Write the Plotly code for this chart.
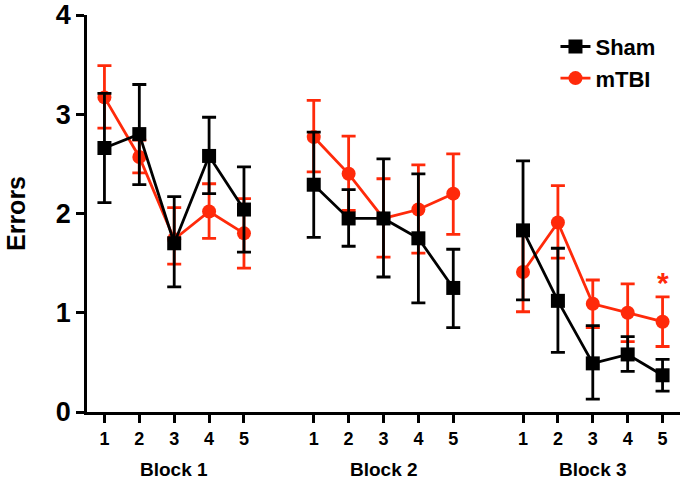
import plotly.graph_objects as go

# Data ------------------------------------------------------------------------
BLOCKS = ['Block 1', 'Block 2', 'Block 3']
TRIALS = ['1', '2', '3', '4', '5']

sham_mean = [
    [2.66, 2.80, 1.70, 2.58, 2.04],
    [2.29, 1.95, 1.95, 1.75, 1.25],
    [1.83, 1.12, 0.49, 0.58, 0.37],
]
sham_hi = [
    [3.21, 3.30, 2.17, 2.97, 2.47],
    [2.82, 2.24, 2.55, 2.40, 1.64],
    [2.53, 1.65, 0.87, 0.76, 0.53],
]
sham_lo = [
    [2.11, 2.29, 1.26, 2.20, 1.61],
    [1.76, 1.67, 1.36, 1.10, 0.85],
    [1.13, 0.60, 0.13, 0.41, 0.21],
]
mtbi_mean = [
    [3.17, 2.57, 1.74, 2.02, 1.80],
    [2.77, 2.40, 1.95, 2.04, 2.20],
    [1.41, 1.91, 1.09, 1.00, 0.91],
]
mtbi_hi = [
    [3.49, 2.74, 2.06, 2.30, 2.15],
    [3.14, 2.78, 2.35, 2.49, 2.60],
    [1.83, 2.28, 1.33, 1.29, 1.16],
]
mtbi_lo = [
    [2.86, 2.41, 1.49, 1.75, 1.45],
    [2.42, 2.03, 1.56, 1.60, 1.79],
    [1.01, 1.55, 0.85, 0.71, 0.66],
]
SIG_BLOCK, SIG_TRIAL, SIG_Y = 2, 4, 1.30

BLACK = '#000000'
RED = '#ff2a0a'
FONT = 'Liberation Sans'
GAP = 6  # trial slots between block starts

fig = go.Figure()


def xpos(b):
    return [b * GAP + i for i in range(len(TRIALS))]


def add_group(name, means, his, los, color, symbol):
    for b in range(len(BLOCKS)):
        m = means[b]
        fig.add_trace(go.Scatter(
            x=xpos(b), y=m, name='<b>%s</b>' % name, legendgroup=name,
            showlegend=(b == 0),
            mode='lines+markers',
            line=dict(color=color, width=2.8),
            marker=dict(color=color, symbol=symbol, size=14, line=dict(width=0)),
            error_y=dict(
                type='data', symmetric=False,
                array=[h - v for h, v in zip(his[b], m)],
                arrayminus=[v - l for l, v in zip(los[b], m)],
                color=color, thickness=2.8, width=7,
            ),
        ))


# red first so the black series sits on top
add_group('mTBI', mtbi_mean, mtbi_hi, mtbi_lo, RED, 'circle')
add_group('Sham', sham_mean, sham_hi, sham_lo, BLACK, 'square')

tickvals = [x for b in range(len(BLOCKS)) for x in xpos(b)]
ticktext = TRIALS * len(BLOCKS)

annotations = [
    dict(x=b * GAP + 2, y=-0.145, xref='x', yref='paper', text='<b>%s</b>' % lbl,
         showarrow=False, font=dict(family=FONT, size=19, color=BLACK),
         xanchor='center', yanchor='middle')
    for b, lbl in enumerate(BLOCKS)
]
annotations.append(dict(
    x=SIG_BLOCK * GAP + SIG_TRIAL, y=SIG_Y, xref='x', yref='y',
    text='<b>*</b>', showarrow=False,
    font=dict(family=FONT, size=30, color=RED), yanchor='middle'))

fig.update_layout(
    width=686, height=484,
    margin=dict(l=87, r=6, t=15, b=72),
    paper_bgcolor='white', plot_bgcolor='white',
    font=dict(family=FONT, color=BLACK),
    showlegend=True,
    legend=dict(x=0.79, y=0.973, xanchor='left', yanchor='top',
                traceorder='reversed',
                font=dict(family=FONT, size=22, color=BLACK),
                bgcolor='rgba(0,0,0,0)', itemwidth=30, tracegroupgap=7),
    annotations=annotations,
    xaxis=dict(
        range=[-0.5, 16.5], tickvals=tickvals, ticktext=['<b>%s</b>' % t for t in ticktext],
        showgrid=False, zeroline=False, showline=True, linecolor=BLACK, linewidth=2.8,
        ticks='outside', ticklen=8, tickwidth=2.8, tickcolor=BLACK,
        tickfont=dict(family=FONT, size=18, color=BLACK), automargin=False,
    ),
    yaxis=dict(
        range=[0, 4], tickvals=[0, 1, 2, 3, 4], ticktext=['<b>%d</b>' % v for v in range(5)],
        showgrid=False, zeroline=False, showline=True, linecolor=BLACK, linewidth=2.8,
        ticks='outside', ticklen=8, tickwidth=2.8, tickcolor=BLACK,
        tickfont=dict(family=FONT, size=27, color=BLACK), automargin=False,
        title=dict(text='<b>Errors</b>', font=dict(family=FONT, size=25, color=BLACK),
                   standoff=23),
    ),
)

# drop the browser's default 8px body margin so the figure fills the window
fig.write_html('out.html', config={'displayModeBar': False},
               post_script="document.body.style.margin='0';")
